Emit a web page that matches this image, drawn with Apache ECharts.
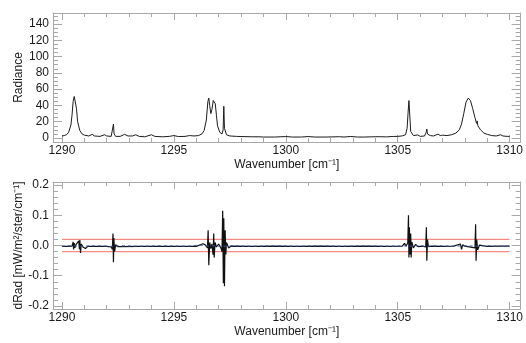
<!DOCTYPE html>
<html>
<head>
<meta charset="utf-8">
<script src="https://cdn.jsdelivr.net/npm/echarts@6/dist/echarts.min.js"></script>
<style>
  html, body { margin: 0; padding: 0; background: #fff; }
  #chart { width: 526px; height: 343px; }
</style>
</head>
<body>
<div id="chart"></div>
<script>
// Radiance spectrum (wavenumber, radiance)
var radWavenumber = [
  1290.0, 1290.1, 1290.2, 1290.3, 1290.4, 1290.45, 1290.5, 1290.55, 1290.6, 1290.65,
  1290.7, 1290.8, 1290.9, 1291.0, 1291.2, 1291.35, 1291.45, 1291.7, 1291.9, 1292.0,
  1292.2, 1292.27, 1292.3, 1292.33, 1292.4, 1292.6, 1292.8, 1292.95, 1293.15, 1293.3,
  1293.45, 1293.7, 1294.0, 1294.15, 1294.5, 1294.8, 1295.0, 1295.2, 1295.5, 1295.7,
  1295.9, 1296.1, 1296.25, 1296.35, 1296.45, 1296.52, 1296.56, 1296.6, 1296.65, 1296.7,
  1296.76, 1296.8, 1296.85, 1296.9, 1296.95, 1297.05, 1297.15, 1297.2, 1297.23, 1297.26,
  1297.35, 1297.5, 1297.8, 1298.0, 1298.5, 1298.8, 1299.0, 1299.5, 1300.0, 1300.3,
  1300.7, 1301.0, 1301.3, 1301.8, 1302.4, 1302.6, 1302.9, 1303.2, 1303.5, 1303.9,
  1304.2, 1304.5, 1304.8, 1305.0, 1305.2, 1305.35, 1305.42, 1305.46, 1305.5, 1305.53,
  1305.58, 1305.7, 1305.9, 1306.0, 1306.2, 1306.27, 1306.3, 1306.33, 1306.45, 1306.6,
  1306.8, 1306.9, 1307.0, 1307.2, 1307.4, 1307.6, 1307.75, 1307.85, 1307.95, 1308.05,
  1308.15, 1308.25, 1308.35, 1308.45, 1308.52, 1308.55, 1308.58, 1308.7, 1308.85, 1309.0,
  1309.2, 1309.4, 1309.6, 1309.7, 1309.9, 1310.0
];
var radiance = [
  2.5, 3, 4, 7, 16, 28, 45, 51, 49, 36,
  20, 9, 5, 3.5, 2.5, 4.5, 2.5, 2, 4, 2.5,
  2, 4, 17, 5, 2, 2, 4.5, 2.5, 2.5, 4,
  2, 1.5, 4, 2, 1.5, 2, 3, 1.8, 2, 3,
  2.5, 3, 5, 9, 22, 45, 49, 40, 30, 35,
  46, 47, 42, 28, 15, 7, 5, 10, 39, 12,
  4, 2.5, 2, 1.8, 1.5, 1.5, 1.2, 1.2, 1.8, 1.2,
  1.2, 1.8, 1.2, 1.2, 1.6, 1.2, 1.9, 1.2, 1.2, 1.5,
  1.6, 1.4, 1.9, 2, 2.6, 4, 12, 30, 46, 32,
  8, 3, 3.8, 2, 2.5, 7, 11, 5, 3, 2.5,
  4.8, 3, 3.5, 3, 4, 6, 10, 17, 30, 44,
  49, 46, 36, 25, 18, 21, 15, 10, 6, 4.5,
  3, 2.5, 4, 2.5, 2, 2
];

// Radiance difference (wavenumber, dRad)
var dWavenumber = [
  1290.0, 1290.3, 1290.45, 1290.5, 1290.52, 1290.55, 1290.58, 1290.62, 1290.7, 1290.75,
  1290.78, 1290.8, 1290.83, 1290.86, 1290.95, 1291.05, 1291.15, 1291.5, 1292.0, 1292.2,
  1292.25, 1292.28, 1292.3, 1292.32, 1292.35, 1292.4, 1292.5, 1293.5, 1294.5, 1295.5,
  1296.0, 1296.3, 1296.4, 1296.5, 1296.53, 1296.56, 1296.6, 1296.65, 1296.7, 1296.75,
  1296.78, 1296.8, 1296.84, 1296.9, 1297.0, 1297.1, 1297.15, 1297.18, 1297.21, 1297.23,
  1297.26, 1297.29, 1297.32, 1297.35, 1297.45, 1297.55, 1298.5, 1299.5, 1300.5, 1301.5,
  1302.5, 1303.5, 1304.5, 1305.2, 1305.3, 1305.38, 1305.45, 1305.48, 1305.5, 1305.52,
  1305.55, 1305.58, 1305.6, 1305.63, 1305.7, 1305.8, 1305.9, 1306.1, 1306.25, 1306.28,
  1306.3, 1306.33, 1306.37, 1306.5, 1307.0, 1307.5, 1307.8, 1307.85, 1307.9, 1308.0,
  1308.45, 1308.48, 1308.5, 1308.53, 1308.57, 1308.65, 1309.0, 1309.5, 1310.0
];
var dRad = [
  -0.003, -0.003, -0.002, 0.012, -0.013, 0.008, -0.008, 0.002, -0.004, 0.015,
  -0.012, 0.018, -0.025, 0.005, -0.006, -0.01, -0.003, -0.003, -0.003, -0.005,
  -0.012, 0.04, -0.055, 0.025, -0.02, 0.003, -0.004, -0.003, -0.003, -0.003,
  -0.003, 0.006, 0.002, -0.008, 0.05, -0.065, 0.01, -0.01, 0.005, -0.03,
  0.04, -0.04, 0.01, -0.005, 0.005, -0.008, -0.02, 0.115, -0.125, 0.09,
  -0.135, 0.05, -0.03, 0.01, -0.008, -0.002, -0.003, -0.002, -0.003, -0.002,
  -0.003, -0.002, -0.003, -0.002, 0.007, -0.002, 0.01, 0.1, -0.04, 0.06,
  -0.03, 0.04, -0.04, 0.012, -0.008, 0.004, -0.004, -0.002, -0.005, 0.06,
  -0.05, 0.02, -0.004, -0.002, -0.003, -0.002, 0.005, -0.013, 0.002, -0.002,
  -0.008, 0.07, -0.05, 0.02, -0.015, 0.001, -0.003, -0.002, -0.002
];

// Smoothed difference drawn in blue
var smoothWavenumber = [
  1290.0, 1290.5, 1290.8, 1291.0, 1291.5, 1292.0, 1292.3, 1292.6, 1293.5, 1294.5,
  1295.5, 1296.2, 1296.5, 1296.8, 1297.2, 1297.5, 1298.5, 1299.5, 1300.5, 1301.5,
  1302.5, 1303.5, 1304.5, 1305.2, 1305.5, 1305.8, 1306.3, 1306.8, 1307.5, 1308.0,
  1308.5, 1309.0, 1309.5, 1310.0
];
var smoothDRad = [
  -0.002, -0.001, -0.003, -0.002, -0.001, -0.002, -0.003, -0.001, -0.002, -0.001,
  -0.002, 0.001, -0.002, -0.001, -0.003, -0.001, -0.002, -0.001, -0.002, -0.001,
  -0.002, -0.001, -0.002, -0.001, -0.002, -0.001, -0.002, -0.001, -0.002, -0.001,
  -0.002, -0.001, -0.002, -0.002
];

// Tolerance band for the difference
var toleranceLevels = [0.02, -0.02];

// Tick positions
var xMajorTicks = [1290, 1295, 1300, 1305, 1310];
var xMinorTicks = [1291, 1292, 1293, 1294, 1296, 1297, 1298, 1299, 1301, 1302, 1303, 1304, 1306, 1307, 1308, 1309];
var radMajorTicks = [0, 20, 40, 60, 80, 100, 120, 140];
var radMinorTicks = [5, 10, 15, 25, 30, 35, 45, 50, 55, 65, 70, 75, 85, 90, 95, 105, 110, 115, 125, 130, 135, 145, 150];
var dMajorTicks = [-0.2, -0.1, 0.0, 0.1, 0.2];
var dMinorTicks = [-0.18, -0.16, -0.14, -0.12, -0.08, -0.06, -0.04, -0.02, 0.02, 0.04, 0.06, 0.08, 0.12, 0.14, 0.16, 0.18];

var X_MIN = 1289.6, X_MAX = 1310.49;
var FRAME = '#a8a8a8';
var TEXT = '#1a1a1a';
var FONT = 'Liberation Sans';
var BAND = '#f48c84';

function xAxesFor(grid, name) {
  var base = {
    type: 'value', gridIndex: grid, min: X_MIN, max: X_MAX,
    splitLine: { show: false }
  };
  function line(show) {
    return { show: show, onZero: false, lineStyle: { color: FRAME, width: 1 } };
  }
  return [
    Object.assign({}, base, {
      position: 'bottom',
      axisLine: line(true),
      axisTick: { show: true, inside: true, length: 7, customValues: xMajorTicks, lineStyle: { color: FRAME } },
      axisLabel: { show: true, customValues: xMajorTicks, color: TEXT, fontFamily: FONT, fontSize: 12, margin: 3,
                   formatter: function (v) { return String(Math.round(v)); } },
      name: name, nameLocation: 'middle', nameGap: 17,
      nameTextStyle: { color: TEXT, fontFamily: FONT, fontSize: 12 }
    }),
    Object.assign({}, base, {
      position: 'bottom',
      axisLine: line(false),
      axisTick: { show: true, inside: true, length: 4, customValues: xMinorTicks, lineStyle: { color: FRAME } },
      axisLabel: { show: false }
    }),
    Object.assign({}, base, {
      position: 'top',
      axisLine: line(true),
      axisTick: { show: true, inside: true, length: 7, customValues: xMajorTicks, lineStyle: { color: FRAME } },
      axisLabel: { show: false }
    }),
    Object.assign({}, base, {
      position: 'top',
      axisLine: line(false),
      axisTick: { show: true, inside: true, length: 4, customValues: xMinorTicks, lineStyle: { color: FRAME } },
      axisLabel: { show: false }
    })
  ];
}

function yAxesFor(grid, min, max, majors, minors, fmt, name, gap) {
  var base = {
    type: 'value', gridIndex: grid, min: min, max: max,
    splitLine: { show: false }
  };
  function line(show) {
    return { show: show, onZero: false, lineStyle: { color: FRAME, width: 1 } };
  }
  return [
    Object.assign({}, base, {
      position: 'left',
      axisLine: line(true),
      axisTick: { show: true, inside: true, length: 9, customValues: majors, lineStyle: { color: FRAME } },
      axisLabel: { show: true, customValues: majors, color: TEXT, fontFamily: FONT, fontSize: 12, margin: 4, formatter: fmt },
      name: name, nameLocation: 'middle', nameGap: gap, nameRotate: 90, nameMoveOverlap: false,
      nameTextStyle: { color: TEXT, fontFamily: FONT, fontSize: 12 }
    }),
    Object.assign({}, base, {
      position: 'left',
      axisLine: line(false),
      axisTick: { show: true, inside: true, length: 5, customValues: minors, lineStyle: { color: FRAME } },
      axisLabel: { show: false }
    }),
    Object.assign({}, base, {
      position: 'right',
      axisLine: line(true),
      axisTick: { show: true, inside: true, length: 9, customValues: majors, lineStyle: { color: FRAME } },
      axisLabel: { show: false }
    }),
    Object.assign({}, base, {
      position: 'right',
      axisLine: line(false),
      axisTick: { show: true, inside: true, length: 5, customValues: minors, lineStyle: { color: FRAME } },
      axisLabel: { show: false }
    })
  ];
}

function pairs(xs, ys) {
  return xs.map(function (x, i) { return [x, ys[i]]; });
}

var xName = 'Wavenumber [cm\u207B\u00B9]';
var dName = 'dRad [mW/m\u00B2/ster/cm\u207B\u00B9]';

var option = {
  animation: false,
  backgroundColor: '#ffffff',
  grid: [
    { left: 53, top: 13, width: 470, height: 129 },
    { left: 53, top: 182, width: 470, height: 127 }
  ],
  xAxis: xAxesFor(0, xName).concat(xAxesFor(1, xName)),
  yAxis: yAxesFor(0, -4.9, 153.5, radMajorTicks, radMinorTicks,
                  function (v) { return String(Math.round(v)); }, 'Radiance', 28)
    .concat(yAxesFor(1, -0.21, 0.21, dMajorTicks, dMinorTicks,
                  function (v) { return v.toFixed(1); }, dName, 28)),
  series: [
    {
      type: 'line', xAxisIndex: 0, yAxisIndex: 0, symbol: 'none',
      data: pairs(radWavenumber, radiance),
      lineStyle: { color: '#1c1c1c', width: 1 }
    },
    {
      type: 'line', xAxisIndex: 4, yAxisIndex: 4, symbol: 'none',
      data: [[1290, toleranceLevels[0]], [1310, toleranceLevels[0]]],
      itemStyle: { color: BAND },
      lineStyle: { color: BAND, width: 1.2 }
    },
    {
      type: 'line', xAxisIndex: 4, yAxisIndex: 4, symbol: 'none',
      data: [[1290, toleranceLevels[1]], [1310, toleranceLevels[1]]],
      itemStyle: { color: BAND },
      lineStyle: { color: BAND, width: 1.2 }
    },
    {
      type: 'line', xAxisIndex: 4, yAxisIndex: 4, symbol: 'none',
      data: pairs(dWavenumber, dRad),
      lineStyle: { color: '#111111', width: 1.2 }
    },
    {
      type: 'line', xAxisIndex: 4, yAxisIndex: 4, symbol: 'none', smooth: true,
      data: pairs(smoothWavenumber, smoothDRad),
      lineStyle: { color: '#3a5cb0', width: 1, type: [3, 3] }
    }
  ]
};

var chart = echarts.init(document.getElementById('chart'), null, { renderer: 'canvas' });
chart.setOption(option);
</script>
</body>
</html>
